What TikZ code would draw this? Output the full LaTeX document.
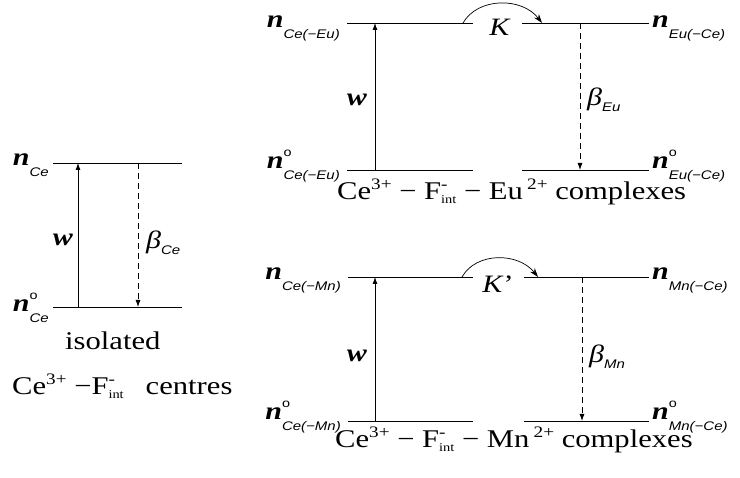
\documentclass[tikz,border=0pt]{standalone}
\usepackage{fontspec}
\setmainfont{Liberation Serif}[FakeStretch=1.2]
\setsansfont{Liberation Sans}[FakeStretch=1.2]
\usetikzlibrary{arrows.meta,positioning}
\newcommand{\subsf}[1]{{\fontsize{12.5}{13}\selectfont\sffamily\itshape #1}}
\newcommand{\nup}[1]{\textbf{\textit{n}}\raisebox{-11pt}{\subsf{#1}}}
\newcommand{\ndown}[1]{\textbf{\textit{n}}\rlap{\raisebox{12pt}{\fontsize{12}{12}\selectfont\sffamily o}}\raisebox{-11pt}{\subsf{#1}}}
\newcommand{\chup}[1]{\raisebox{10pt}{\fontsize{16}{16}\selectfont #1}}
\newcommand{\chdn}[1]{\raisebox{-4pt}{\fontsize{12}{12}\selectfont #1}}

\begin{document}
\begin{tikzpicture}[x=1pt, y=-1pt,
    level/.style={line width=0.8pt},
    pump/.style={line width=0.8pt, -{Latex[length=7pt,width=5pt]}},
    decay/.style={line width=0.8pt, dash pattern=on 6pt off 4pt, -{Latex[length=7pt,width=5pt]}},
    transfer/.style={line width=0.7pt, -{Stealth[length=9pt,width=6pt]}},
    lvl/.style={inner sep=0pt, font=\fontsize{25}{30}\selectfont},
    rate/.style={inner sep=0pt, font=\fontsize{25}{30}\selectfont},
    caption/.style={inner sep=0pt, anchor=base west, font=\fontsize{25.5}{30}\selectfont}
]
    \useasboundingbox (0,0) rectangle (740,478);

    % isolated Ce centres
    \coordinate (ceT1) at (53,163);  \coordinate (ceT2) at (182,163);
    \coordinate (ceB1) at (53,307);  \coordinate (ceB2) at (182,307);
    \draw[level] (ceT1) -- (ceT2);
    \draw[level] (ceB1) -- (ceB2);
    \coordinate (ceW0) at (78,307);  \coordinate (ceW1) at (78,163);
    \coordinate (ceD0) at (138,163); \coordinate (ceD1) at (138,307);
    \draw[pump] (ceW0) -- (ceW1);
    \draw[decay] (ceD0) -- (ceD1);
    \node[lvl, anchor=base east, xshift=-4pt, yshift=-3pt] (nCe) at (ceT1) {\nup{Ce}};
    \node[lvl, anchor=base east, xshift=-4pt, yshift=-5pt] (nCe0) at (ceB1) {\ndown{Ce}};
    \node[rate] (wCe) at (63,240) {\textbf{\textit{w}}};
    \node[rate, anchor=west] (bCe) at (146,243) {\textit{β}\raisebox{-6pt}{\subsf{Ce}}};
    \node[caption] (isol) at (65,350) {isolated};
    \node[caption] (capCe) at (12,395) {Ce\chup{3+} −F\rlap{\chup{-}}\chdn{int}\hspace{22pt}centres};

    % Ce - F - Eu complexes
    \coordinate (euT1) at (347,23);  \coordinate (euT2) at (473,23);
    \coordinate (euT3) at (522,23);  \coordinate (euT4) at (649,23);
    \coordinate (euB1) at (347,170); \coordinate (euB2) at (473,170);
    \coordinate (euB3) at (522,170); \coordinate (euB4) at (649,170);
    \draw[level] (euT1) -- (euT2);
    \draw[level] (euT3) -- (euT4);
    \draw[level] (euB1) -- (euB2);
    \draw[level] (euB3) -- (euB4);
    \coordinate (euW0) at (375,170); \coordinate (euW1) at (375,23);
    \coordinate (euD0) at (580,23);  \coordinate (euD1) at (580,170);
    \draw[pump] (euW0) -- (euW1);
    \draw[decay] (euD0) -- (euD1);
    \coordinate (euK0) at (463,23);  \coordinate (euK1) at (542,23);
    \draw[transfer] (euK0) .. controls (478,-3) and (522,-3) .. (euK1);
    \node[rate] (kEu) at (500,27) {\textit{K}};
    \node[lvl, anchor=base east, xshift=-7pt, yshift=-5pt] (nCeEu) at (euT1) {\nup{Ce(−Eu)}};
    \node[lvl, anchor=base east, xshift=-7pt, yshift=1pt] (nCeEu0) at (euB1) {\ndown{Ce(−Eu)}};
    \node[lvl, anchor=base west, xshift=3pt, yshift=-5pt] (nEuCe) at (euT4) {\nup{Eu(−Ce)}};
    \node[lvl, anchor=base west, xshift=3pt, yshift=1pt] (nEuCe0) at (euB4) {\ndown{Eu(−Ce)}};
    \node[rate] (wEu) at (357,100) {\textbf{\textit{w}}};
    \node[rate, anchor=west] (bEu) at (587,100) {\textit{β}\raisebox{-6pt}{\subsf{Eu}}};
    \node[caption] (capEu) at (337,200) {Ce\chup{3+} − F\rlap{\chup{-}}\chdn{int} − Eu\,\chup{2+} complexes};

    % Ce - F - Mn complexes
    \coordinate (mnT1) at (348,277); \coordinate (mnT2) at (473,277);
    \coordinate (mnT3) at (524,277); \coordinate (mnT4) at (649,277);
    \coordinate (mnB1) at (348,421); \coordinate (mnB2) at (473,421);
    \coordinate (mnB3) at (524,421); \coordinate (mnB4) at (649,421);
    \draw[level] (mnT1) -- (mnT2);
    \draw[level] (mnT3) -- (mnT4);
    \draw[level] (mnB1) -- (mnB2);
    \draw[level] (mnB3) -- (mnB4);
    \coordinate (mnW0) at (375,421); \coordinate (mnW1) at (375,277);
    \coordinate (mnD0) at (582,277); \coordinate (mnD1) at (582,421);
    \draw[pump] (mnW0) -- (mnW1);
    \draw[decay] (mnD0) -- (mnD1);
    \coordinate (mnK0) at (462,277); \coordinate (mnK1) at (538,277);
    \draw[transfer] (mnK0) .. controls (476,252) and (518,252) .. (mnK1);
    \node[rate] (kMn) at (498,284) {\textit{K}'};
    \node[lvl, anchor=base east, xshift=-7pt, yshift=-3pt] (nCeMn) at (mnT1) {\nup{Ce(−Mn)}};
    \node[lvl, anchor=base east, xshift=-7pt, yshift=1pt] (nCeMn0) at (mnB1) {\ndown{Ce(−Mn)}};
    \node[lvl, anchor=base west, xshift=3pt, yshift=-3pt] (nMnCe) at (mnT4) {\nup{Mn(−Ce)}};
    \node[lvl, anchor=base west, xshift=3pt, yshift=1pt] (nMnCe0) at (mnB4) {\ndown{Mn(−Ce)}};
    \node[rate] (wMn) at (357,356) {\textbf{\textit{w}}};
    \node[rate, anchor=west] (bMn) at (589,357) {\textit{β}\raisebox{-6pt}{\subsf{Mn}}};
    \node[caption] (capMn) at (335,448) {Ce\chup{3+} − F\rlap{\chup{-}}\chdn{int} − Mn\,\chup{2+} complexes};
\end{tikzpicture}
\end{document}
